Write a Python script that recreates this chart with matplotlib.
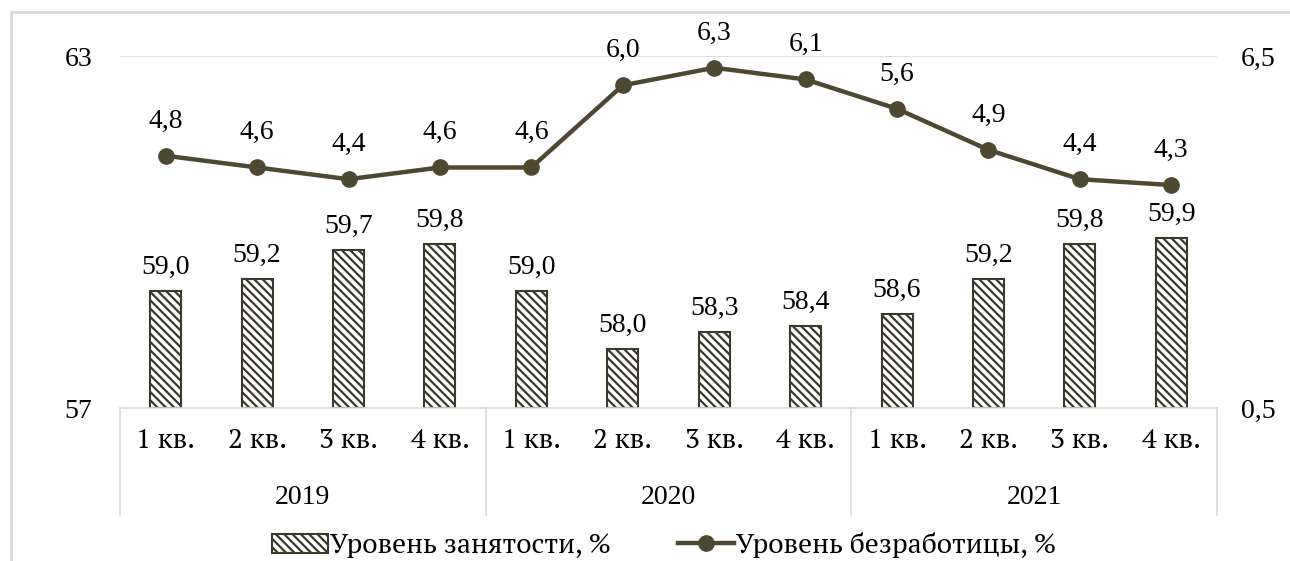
import matplotlib.pyplot as plt
from matplotlib.patches import Patch
from matplotlib.lines import Line2D
from matplotlib import font_manager

plt.rcParams['hatch.linewidth'] = 1.6

quarters = ['1 кв.', '2 кв.', '3 кв.', '4 кв.'] * 3
years = ['2019', '2020', '2021']
employment = [59.0, 59.2, 59.7, 59.8, 59.0, 58.0, 58.3, 58.4, 58.6, 59.2, 59.8, 59.9]
unemployment = [4.8, 4.6, 4.4, 4.6, 4.6, 6.0, 6.3, 6.1, 5.6, 4.9, 4.4, 4.3]

W, H = 1290, 561
grid_col = '#d9d9d9'
line_col = '#4d4832'
bar_edge = '#3b382c'
fs = 20
hatch = '\\\\\\\\'

# Times-like serif for numbers, PT Serif for the Cyrillic labels
fp = font_manager.FontProperties(family='Liberation Serif', size=fs)
fp_cyr = font_manager.FontProperties(family=['PT Serif', 'DejaVu Serif'], size=fs)

fig = plt.figure(figsize=(W / 100, H / 100), dpi=100)
ax = fig.add_axes([120 / W, 1 - 408 / H, (1217 - 120) / W, (408 - 56) / H])
x = list(range(len(employment)))

# bars - employment (left axis)
ax.bar(x, [v - 57 for v in employment], bottom=57, width=0.34, color='white',
       edgecolor=bar_edge, linewidth=1.5, hatch=hatch, zorder=2)
for i, v in enumerate(employment):
    ax.annotate(f'{v:.1f}'.replace('.', ','), (i, v), xytext=(0, 17),
                textcoords='offset points', ha='center', va='center', fontproperties=fp)
ax.set_xlim(-0.5, 11.5)
ax.set_ylim(57, 63)
ax.set_yticks([57, 63])
ax.set_yticklabels(['57', '63'], fontproperties=fp)
ax.axhline(63, color=grid_col, lw=1.2, zorder=0)
ax.set_xticks([])
for s in ['top', 'right', 'left']:
    ax.spines[s].set_visible(False)
ax.spines['bottom'].set_color(grid_col)
ax.spines['bottom'].set_linewidth(1.2)
ax.tick_params(axis='y', length=0, pad=20)

# line - unemployment (right axis)
ax2 = ax.twinx()
ax2.plot(x, unemployment, color=line_col, lw=3.2, marker='o', markersize=11, zorder=3)
for i, v in enumerate(unemployment):
    ax2.annotate(f'{v:.1f}'.replace('.', ','), (i, v), xytext=(0, 25),
                 textcoords='offset points', ha='center', va='center', fontproperties=fp)
ax2.set_ylim(0.5, 6.5)
ax2.set_yticks([0.5, 6.5])
ax2.set_yticklabels(['0,5', '6,5'], fontproperties=fp)
ax2.tick_params(axis='y', length=0, pad=17)
for s in ax2.spines.values():
    s.set_visible(False)

# two-level category axis
trans = ax.get_xaxis_transform()
tbl_bottom = -(515 - 408) / (408 - 56)
for xv in [-0.5, 3.5, 7.5, 11.5]:
    ax.add_line(Line2D([xv, xv], [0, tbl_bottom], transform=trans, color=grid_col,
                       lw=1.2, clip_on=False))
for i, q in enumerate(quarters):
    ax.text(i, -(440 - 408) / (408 - 56), q, transform=trans, ha='center', va='center',
            fontproperties=fp_cyr)
for j, y in enumerate(years):
    ax.text(4 * j + 1.5, -(497 - 408) / (408 - 56), y, transform=trans, ha='center',
            va='center', fontproperties=fp)

# legend
handles = [Patch(facecolor='white', edgecolor=bar_edge, hatch=hatch, linewidth=1.5),
           Line2D([0], [0], color=line_col, lw=3.2, marker='o', markersize=11)]
labels = ['Уровень занятости, %', 'Уровень безработицы, %']
fig.legend(handles, labels, loc='center', bbox_to_anchor=(0.515, 1 - 545 / H), ncol=2,
           frameon=False, prop=fp_cyr, handlelength=2.0, handletextpad=0.1,
           columnspacing=2.4)

# outer frame of the screenshot
fig.add_artist(Line2D([11 / W, 11 / W], [0, 1 - 12 / H], color=grid_col, lw=2))
fig.add_artist(Line2D([11 / W, 1], [1 - 12 / H, 1 - 12 / H], color=grid_col, lw=2))

fig.savefig('out.png', dpi=100)
